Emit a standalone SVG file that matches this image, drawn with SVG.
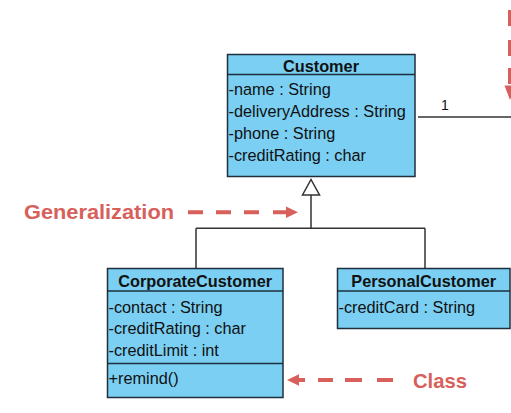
<svg xmlns="http://www.w3.org/2000/svg" width="511" height="413" viewBox="0 0 511 413">
<style>
.box{fill:#7acff3;stroke:#1f2f3c;stroke-width:1.5}
.div{stroke:#1f2f3c;stroke-width:1.5}
.t{font-family:"Liberation Sans",Arial,sans-serif;font-size:16.3px;fill:#111}
.h{font-family:"Liberation Sans",Arial,sans-serif;font-size:16.3px;font-weight:bold;fill:#111;text-anchor:middle}
.conn{fill:none;stroke:#333;stroke-width:1.5}
.red{fill:none;stroke:#d8605b;stroke-width:4}
.redh{fill:#d8605b}
.lbl{font-family:"Liberation Sans",Arial,sans-serif;font-weight:bold;font-size:21px;fill:#d8605b}
</style>
<rect width="511" height="413" fill="#ffffff"/>
<g id="connectors">
<path class="conn" d="M418 117 H511"/>
<text class="t" x="441" y="110" style="font-size:14px">1</text>
<path class="conn" d="M311 195 V228.3 M196 228.3 H425 M196 228.3 V268 M425 228.3 V268"/>
<polygon points="311,179.5 302.5,195 319.5,195" fill="#ffffff" stroke="#333" stroke-width="1.5"/>
</g>
<g id="Customer">
<rect class="box" x="227.5" y="54.5" width="187.5" height="122"/>
<line class="div" x1="227.5" y1="74.5" x2="415" y2="74.5"/>
<text class="h" x="321" y="71.5">Customer</text>
<text class="t" x="228.5" y="95">-name : String</text>
<text class="t" x="228.5" y="117">-deliveryAddress : String</text>
<text class="t" x="228.5" y="139">-phone : String</text>
<text class="t" x="228.5" y="161">-creditRating : char</text>
</g>
<g id="CorporateCustomer">
<rect class="box" x="107.5" y="268.5" width="175.5" height="129"/>
<line class="div" x1="107.5" y1="291" x2="283" y2="291"/>
<line class="div" x1="107.5" y1="363.5" x2="283" y2="363.5"/>
<text class="h" x="195.2" y="286.5">CorporateCustomer</text>
<text class="t" x="108.5" y="312.5">-contact : String</text>
<text class="t" x="108.5" y="334">-creditRating : char</text>
<text class="t" x="108.5" y="355.5">-creditLimit : int</text>
<text class="t" x="108.5" y="384">+remind()</text>
</g>
<g id="PersonalCustomer">
<rect class="box" x="337.5" y="268.5" width="172.5" height="60"/>
<line class="div" x1="337.5" y1="291" x2="510" y2="291"/>
<text class="h" x="423.7" y="286.5">PersonalCustomer</text>
<text class="t" x="338.5" y="312.5">-creditCard : String</text>
</g>
<g id="annotations">
<text class="lbl" x="24" y="219.3" textLength="150" lengthAdjust="spacingAndGlyphs">Generalization</text>
<path class="red" d="M188 212.3 H203 M216 212.3 H231 M244 212.3 H259 M273 212.3 H288"/>
<polygon class="redh" points="286,206.5 298,212.3 286,218"/>
<text class="lbl" x="413" y="387.5" textLength="54" lengthAdjust="spacingAndGlyphs">Class</text>
<path class="red" d="M298 380 H305 M318 380 H333 M345 380 H362 M377 380 H393"/>
<polygon class="redh" points="287,380 299,374.2 299,385.8"/>
<path class="red" d="M510 10 V26 M510 40 V56 M510 68 V84"/>
<polygon class="redh" points="504.5,85.5 515.5,85.5 510,100"/>
</g>
</svg>
